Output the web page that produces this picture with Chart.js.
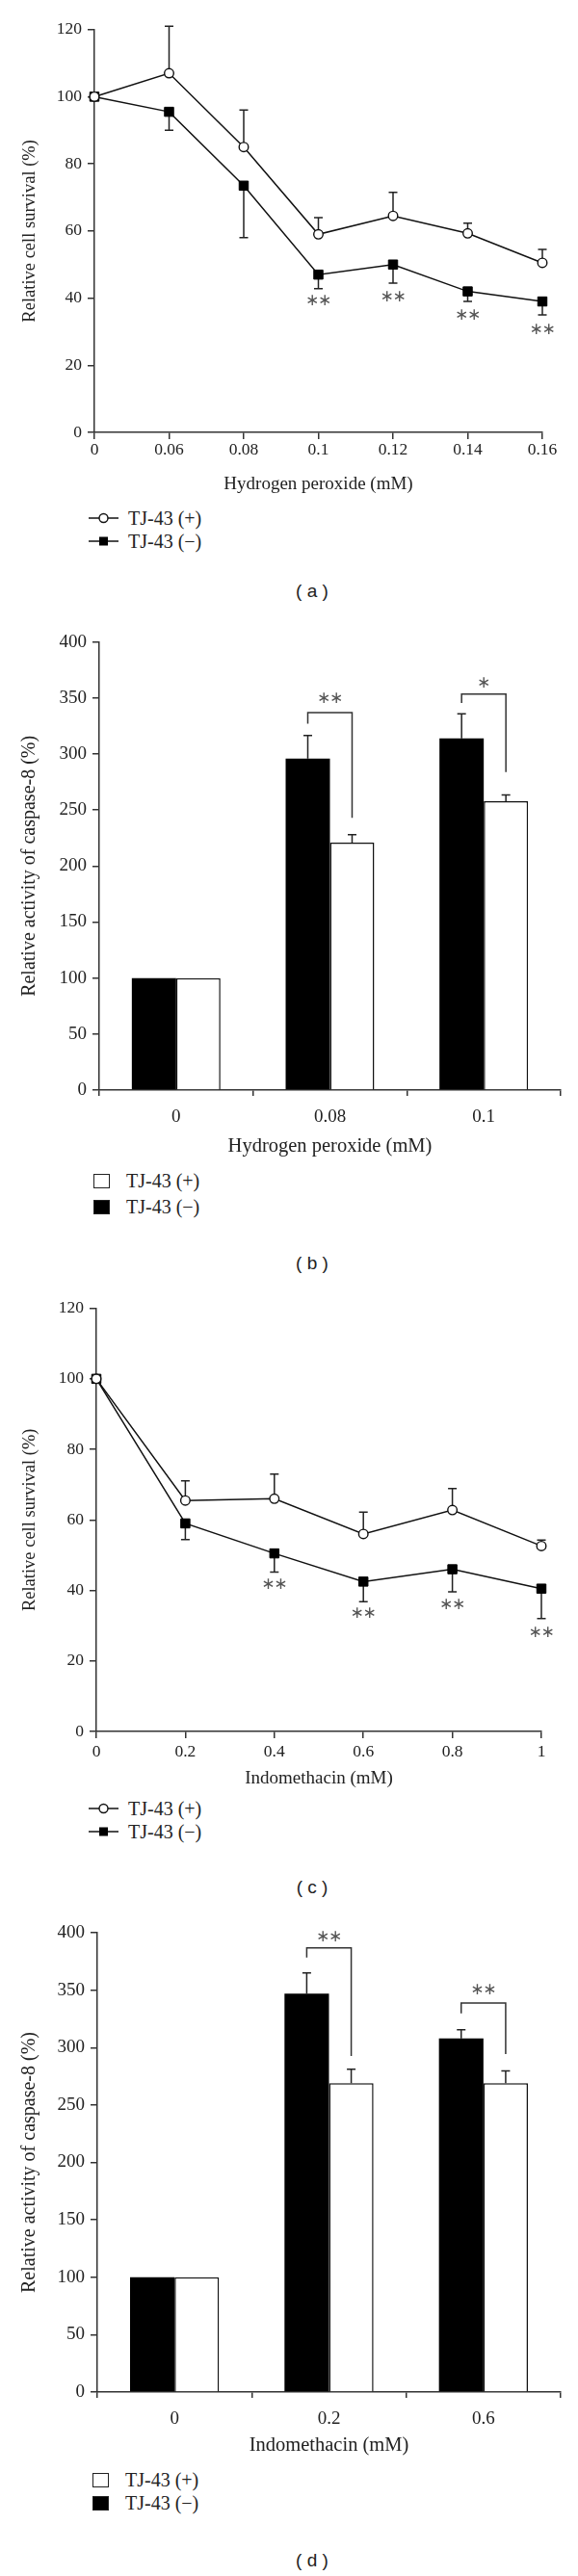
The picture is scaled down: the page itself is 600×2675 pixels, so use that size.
<!DOCTYPE html>
<html>
<head>
<meta charset="utf-8">
<script src="https://cdn.jsdelivr.net/npm/chart.js@4.4.1/dist/chart.umd.min.js"></script>
<style>
  body { margin: 0; background: #fff; }
  #page { position: relative; width: 600px; height: 2675px; font-family: 'Liberation Serif', serif; color: #222; }
  canvas { position: absolute; left: 0; }
  .leg { position: absolute; font-size: 20px; }
  .row { display: flex; align-items: center; height: 24px; }
  .row svg { margin-right: 10px; }
  .box { width: 15px; height: 13px; border: 1.5px solid #222; margin-right: 17px; }
  .cap { position: absolute; width: 100px; left: 274px; text-align: center; font-family: 'Liberation Sans', Arial, sans-serif; font-size: 19px; line-height: 24px; }
</style>
</head>
<body>
<div id="page">
  <canvas id="chartA" width="600" height="514" style="top:0px"></canvas>
  <canvas id="chartB" width="600" height="563" style="top:640px"></canvas>
  <canvas id="chartC" width="600" height="528" style="top:1330px"></canvas>
  <canvas id="chartD" width="600" height="567" style="top:1985px"></canvas>

  <div class="leg" style="top:526px;left:92px">
    <div class="row"><svg width="31" height="14"><line x1="0" y1="7" x2="31" y2="7" stroke="#111" stroke-width="1.5"/><circle cx="15.5" cy="7" r="4.5" fill="#fff" stroke="#111" stroke-width="1.4"/></svg><span>TJ-43 (+)</span></div>
    <div class="row"><svg width="31" height="14"><line x1="0" y1="7" x2="31" y2="7" stroke="#111" stroke-width="1.5"/><rect x="11" y="2.5" width="9" height="9" fill="#000"/></svg><span>TJ-43 (−)</span></div>
  </div>
  <div class="cap" style="top:602px">( a )</div>

  <div class="leg" style="top:1214px;left:97px">
    <div class="row"><div class="box" style="background:#fff"></div><span>TJ-43 (+)</span></div>
    <div class="row" style="margin-top:3px"><div class="box" style="background:#000"></div><span>TJ-43 (−)</span></div>
  </div>
  <div class="cap" style="top:1300px">( b )</div>

  <div class="leg" style="top:1866px;left:92px">
    <div class="row"><svg width="31" height="14"><line x1="0" y1="7" x2="31" y2="7" stroke="#111" stroke-width="1.5"/><circle cx="15.5" cy="7" r="4.5" fill="#fff" stroke="#111" stroke-width="1.4"/></svg><span>TJ-43 (+)</span></div>
    <div class="row"><svg width="31" height="14"><line x1="0" y1="7" x2="31" y2="7" stroke="#111" stroke-width="1.5"/><rect x="11" y="2.5" width="9" height="9" fill="#000"/></svg><span>TJ-43 (−)</span></div>
  </div>
  <div class="cap" style="top:1948px">( c )</div>

  <div class="leg" style="top:2563px;left:96px">
    <div class="row"><div class="box" style="background:#fff"></div><span>TJ-43 (+)</span></div>
    <div class="row"><div class="box" style="background:#000"></div><span>TJ-43 (−)</span></div>
  </div>
  <div class="cap" style="top:2647px">( d )</div>
</div>

<script>
// (a) hydrogen peroxide, cell survival
const doseA = ['0', '0.06', '0.08', '0.1', '0.12', '0.14', '0.16']
const survPlusA = [100, 107, 85, 59, 64.5, 59.3, 50.5]
const errPlusA = [0, 14, 11, 5, 7, 3, 4]
const survMinusA = [100, 95.5, 73.5, 47, 50, 42, 39]
const errMinusA = [0, 5.5, 15.5, 4.2, 5.5, 3, 4]
const starsA = ['', '', '', '**', '**', '**', '**']
const starYA = [null, null, null, 39, 40.4, 34.7, 30.4]

// (b) hydrogen peroxide, caspase-8
const doseB = ['0', '0.08', '0.1']
const actMinusB = [100, 296, 314]
const errMinusB = [0, 20.5, 22]
const actPlusB = [100, 221, 258]
const errPlusB = [0, 7, 5.4]
const starsB = ['', '**', '*']
const starYB = [null, 349, 363]
const bracketTopB = [null, 337, 353.5]
const bracketLeftB = [null, 327, 345.5]
const bracketRightB = [null, 243, 284]

// (c) indomethacin, cell survival
const doseC = ['0', '0.2', '0.4', '0.6', '0.8', '1']
const survPlusC = [100, 65.5, 66, 56, 62.8, 52.6]
const errPlusC = [0, 5.6, 7, 6.2, 6.1, 1.7]
const survMinusC = [100, 59, 50.5, 42.5, 46, 40.5]
const errMinusC = [0, 4.6, 5.3, 5.7, 6.4, 8.5]
const starsC = ['', '', '**', '**', '**', '**']
const starYC = [null, null, 41.7, 33.4, 35.9, 27.9]

// (d) indomethacin, caspase-8
const doseD = ['0', '0.2', '0.6']
const actMinusD = [100, 347, 308]
const errMinusD = [0, 18, 7.6]
const actPlusD = [100, 269, 269]
const errPlusD = [0, 12.2, 10.6]
const starsD = ['', '**', '**']
const starYD = [null, 396, 350.3]
const bracketTopD = [null, 386.7, 338.7]
const bracketLeftD = [null, 378.4, 329.7]
const bracketRightD = [null, 292.6, 294.4]

const serif = "'Liberation Serif', 'Times New Roman', serif"
const ink = '#222'

// error bars from the errors array of each dataset
const errorBars = {
  id: 'errorBars',
  beforeDatasetsDraw(chart) {
    const ctx = chart.ctx, ys = chart.scales.y
    chart.data.datasets.forEach((ds, i) => {
      if (!ds.errors) return
      const meta = chart.getDatasetMeta(i)
      ctx.save()
      ctx.strokeStyle = ink
      ctx.lineWidth = 1.5
      meta.data.forEach((el, j) => {
        const e = ds.errors[j]
        if (!e) return
        const y0 = ys.getPixelForValue(ds.data[j])
        const y1 = ys.getPixelForValue(ds.data[j] + ds.errDir * e)
        ctx.beginPath()
        ctx.moveTo(el.x, y0)
        ctx.lineTo(el.x, y1)
        ctx.moveTo(el.x - 4.5, y1)
        ctx.lineTo(el.x + 4.5, y1)
        ctx.stroke()
      })
      ctx.restore()
    })
  }
}

// asterisks and brackets
const sigMarks = {
  id: 'sigMarks',
  afterDatasetsDraw(chart, args, opts) {
    if (!opts.stars) return
    const ctx = chart.ctx, ys = chart.scales.y
    const m0 = chart.getDatasetMeta(0), m1 = chart.getDatasetMeta(1)
    ctx.save()
    ctx.fillStyle = '#555'
    ctx.strokeStyle = '#333'
    ctx.lineWidth = 1.5
    ctx.font = "17px 'DejaVu Sans'"
    ctx.textAlign = 'center'
    ctx.textBaseline = 'middle'
    opts.stars.forEach((s, j) => {
      if (!s) return
      let x
      if (opts.top) {
        const xl = m0.data[j].x, xr = m1.data[j].x
        const yt = ys.getPixelForValue(opts.top[j])
        ctx.beginPath()
        ctx.moveTo(xl, ys.getPixelForValue(opts.left[j]))
        ctx.lineTo(xl, yt)
        ctx.lineTo(xr, yt)
        ctx.lineTo(xr, ys.getPixelForValue(opts.right[j]))
        ctx.stroke()
        x = (xl + xr) / 2
      } else {
        x = m1.data[j].x
      }
      const y = ys.getPixelForValue(opts.starY[j])
      if (s.length === 2) {
        ctx.fillText('\u2217', x - 6.5, y)
        ctx.fillText('\u2217', x + 6.5, y)
      } else {
        ctx.fillText('\u2217', x, y)
      }
    })
    ctx.restore()
  }
}

function axisCommon(tickSize, tickLen) {
  return {
    grid: { drawOnChartArea: false, tickLength: tickLen, color: '#333', lineWidth: 1.5 },
    border: { color: '#333', width: 1.5 },
    ticks: { color: ink, font: { family: serif, size: tickSize }, maxRotation: 0, autoSkip: false }
  }
}

function survivalChart(id, labels, plus, plusErr, minus, minusErr, stars, starY, o) {
  const x = axisCommon(17.5, 7)
  x.offset = false
  x.ticks.padding = o.tp
  x.afterFit = s => { s.height = o.xh }
  x.title = { display: true, text: o.xTitle, color: ink, font: { family: serif, size: 19 }, padding: 0 }
  const y = axisCommon(17.5, 7)
  y.min = 0
  y.max = 120
  y.ticks.stepSize = 20
  y.ticks.padding = 6
  y.afterFit = s => { s.width = o.yw }
  y.title = { display: true, text: 'Relative cell survival (%)', color: ink, font: { family: serif, size: 18.5 }, padding: { top: 20, bottom: 0 } }
  return new Chart(document.getElementById(id), {
    type: 'line',
    data: {
      labels: labels,
      datasets: [
        { label: 'TJ-43 (+)', data: plus, errors: plusErr, errDir: 1, clip: false,
          borderColor: '#111', borderWidth: 1.5, tension: 0,
          pointStyle: 'circle', pointRadius: 4.8, pointBackgroundColor: '#fff', pointBorderColor: '#111', pointBorderWidth: 1.4 },
        { label: 'TJ-43 (\u2212)', data: minus, errors: minusErr, errDir: -1, clip: false,
          borderColor: '#111', borderWidth: 1.5, tension: 0,
          pointStyle: 'rect', pointRadius: 6.7, pointBackgroundColor: '#000', pointBorderColor: '#000', pointBorderWidth: 1 }
      ]
    },
    options: {
      responsive: false, animation: false, events: [],
      layout: { padding: { top: o.top, right: o.right, bottom: 0, left: 0 } },
      plugins: { legend: { display: false }, tooltip: { enabled: false }, sigMarks: { stars: stars, starY: starY } },
      scales: { x: x, y: y }
    },
    plugins: [errorBars, sigMarks]
  })
}

function caspaseChart(id, labels, minus, minusErr, plus, plusErr, marks, o) {
  const x = axisCommon(19, 6)
  x.ticks.padding = o.tp
  x.afterFit = s => { s.height = o.xh }
  x.title = { display: true, text: o.xTitle, color: ink, font: { family: serif, size: 20.5 }, padding: 0 }
  const y = axisCommon(19, 7)
  y.min = 0
  y.max = 400
  y.ticks.stepSize = 50
  y.ticks.padding = 6
  y.afterFit = s => { s.width = o.yw }
  y.title = { display: true, text: 'Relative activity of caspase-8 (%)', color: ink, font: { family: serif, size: 20 }, padding: { top: 19, bottom: 0 } }
  return new Chart(document.getElementById(id), {
    type: 'bar',
    data: {
      labels: labels,
      datasets: [
        { label: 'TJ-43 (\u2212)', data: minus, errors: minusErr, errDir: 1,
          backgroundColor: '#000', borderColor: '#000', borderWidth: 0,
          barPercentage: 1, categoryPercentage: 0.576 },
        { label: 'TJ-43 (+)', data: plus, errors: plusErr, errDir: 1,
          backgroundColor: '#fff', borderColor: '#111', borderWidth: 1.5,
          barPercentage: 1, categoryPercentage: 0.576 }
      ]
    },
    options: {
      responsive: false, animation: false, events: [],
      layout: { padding: { top: o.top, right: o.right, bottom: 0, left: 0 } },
      plugins: { legend: { display: false }, tooltip: { enabled: false }, sigMarks: marks },
      scales: { x: x, y: y }
    },
    plugins: [errorBars, sigMarks]
  })
}

survivalChart('chartA', doseA, survPlusA, errPlusA, survMinusA, errMinusA, starsA, starYA,
  { top: 30.7, right: 37, yw: 98, xh: 65, tp: 1, xTitle: 'Hydrogen peroxide (mM)' })

caspaseChart('chartB', doseB, actMinusB, errMinusB, actPlusB, errPlusB,
  { stars: starsB, starY: starYB, top: bracketTopB, left: bracketLeftB, right: bracketRightB },
  { top: 26.7, right: 18, yw: 103, xh: 71, tp: 11, xTitle: 'Hydrogen peroxide (mM)' })

survivalChart('chartC', doseC, survPlusC, errPlusC, survMinusC, errMinusC, starsC, starYC,
  { top: 28.6, right: 38, yw: 100, xh: 60, tp: 4, xTitle: 'Indomethacin (mM)' })

caspaseChart('chartD', doseD, actMinusD, errMinusD, actPlusD, errPlusD,
  { stars: starsD, starY: starYD, top: bracketTopD, left: bracketLeftD, right: bracketRightD },
  { top: 22, right: 18, yw: 101, xh: 68, tp: 11, xTitle: 'Indomethacin (mM)' })
</script>
</body>
</html>
